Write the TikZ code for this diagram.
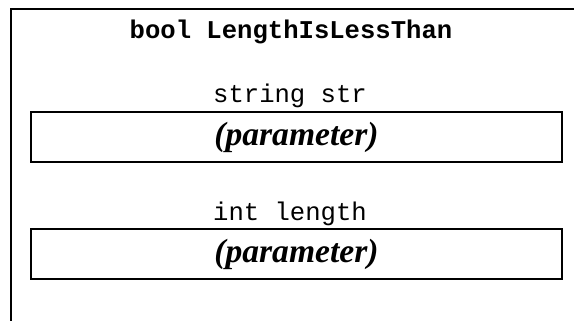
\documentclass[tikz,border=0pt]{standalone}
\usepackage{fontspec}
\setmainfont{Liberation Serif}
\setmonofont{Liberation Mono}
\usetikzlibrary{positioning}

\begin{document}
\begin{tikzpicture}[x=0.5pt,y=-0.5pt,
  frame/.style={draw, line width=1pt},
  signature/.style={font=\ttfamily\bfseries\fontsize{12.8}{14}\selectfont},
  argname/.style={font=\ttfamily\fontsize{12.8}{14}\selectfont},
  parambox/.style={draw, line width=1pt, minimum width=265.5pt, minimum height=25pt, inner sep=0pt,
    font=\bfseries\itshape\fontsize{16.8}{18}\selectfont}]
\useasboundingbox (0,0) rectangle (574,321);
\clip (0,0) rectangle (574,321);
% outer frame, runs off the page on the right and bottom
\draw[frame] (11,9) rectangle (600,340);
% function name
\node[signature] (func) at (291,32) {bool LengthIsLessThan};
% first argument
\node[argname] (arg1) at (290,96) {string str};
\node[parambox] (par1) at (296.5,137) {(parameter)};
% second argument
\node[argname] (arg2) at (290,214) {int length};
\node[parambox] (par2) at (296.5,254) {(parameter)};
\end{tikzpicture}
\end{document}
